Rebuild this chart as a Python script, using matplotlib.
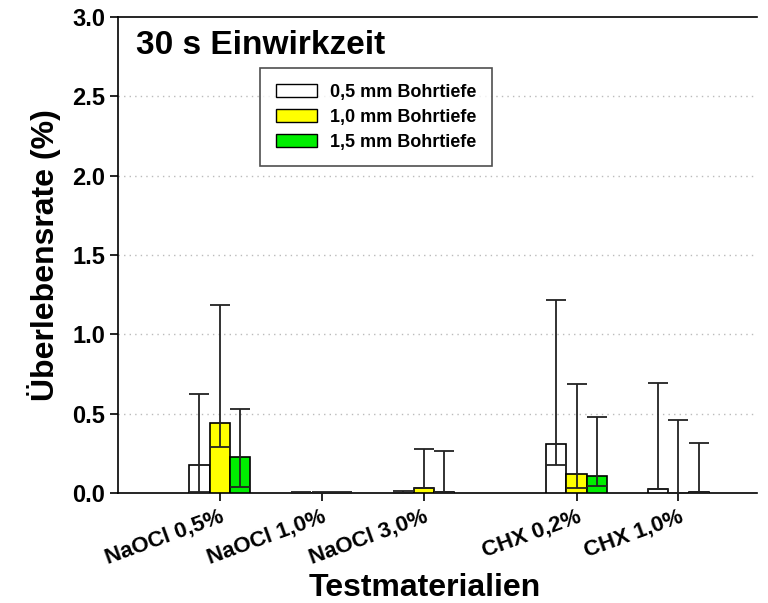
import matplotlib.pyplot as plt
import numpy as np
from matplotlib.patches import Patch

plt.rcParams['font.family'] = ['Liberation Sans', 'DejaVu Sans']
plt.rcParams['font.weight'] = 'bold'

categories = ["NaOCl 0,5%", "NaOCl 1,0%", "NaOCl 3,0%", "CHX 0,2%", "CHX 1,0%"]
positions = [1, 2, 3, 4.5, 5.5]
series_names = ["0,5 mm Bohrtiefe", "1,0 mm Bohrtiefe", "1,5 mm Bohrtiefe"]
colors = ["white", "#ffff00", "#00ee00"]

# mean values
mean_05 = [0.175, 0.001, 0.003, 0.311, 0.023]
mean_10 = [0.443, 0.001, 0.033, 0.120, 0.000]
mean_15 = [0.225, 0.001, 0.008, 0.109, 0.008]
# upper ends of error bars
upper_05 = [0.624, 0.004, 0.013, 1.216, 0.693]
upper_10 = [1.183, 0.004, 0.280, 0.687, 0.462]
upper_15 = [0.531, 0.004, 0.267, 0.479, 0.315]
# lower ends of error bars
lower_05 = [0.005, 0.001, 0.003, 0.175, 0.023]
lower_10 = [0.290, 0.001, 0.033, 0.030, 0.000]
lower_15 = [0.038, 0.001, 0.008, 0.046, 0.008]

means = [mean_05, mean_10, mean_15]
uppers = [upper_05, upper_10, upper_15]
lowers = [lower_05, lower_10, lower_15]

fig = plt.figure(figsize=(7.68, 6.03), dpi=100)
ax = fig.add_axes([0.1536, 0.1824, 0.832, 0.7894])

width = 0.2
x = np.array(positions)
for i in range(3):
    xs = x + (i - 1) * width
    m = np.array(means[i])
    up = np.array(uppers[i]) - m
    lo = m - np.array(lowers[i])
    ax.bar(xs, m, width, color=colors[i], edgecolor="black", linewidth=1.2, zorder=3)
    ax.errorbar(xs, m, yerr=[lo, up], fmt="none", ecolor="#222222",
                elinewidth=1.3, capsize=7.5, capthick=1.3, zorder=4)

ax.set_xlim(0, 6.27)
ax.set_ylim(0, 3.0)
ax.set_yticks([0, 0.5, 1.0, 1.5, 2.0, 2.5, 3.0])
ax.set_yticklabels(["0.0", "0.5", "1.0", "1.5", "2.0", "2.5", "3.0"], fontsize=17, fontweight="bold")
for gy in [0.5, 1.0, 1.5, 2.0, 2.5]:
    ax.axhline(gy, color="#bbbbbb", linestyle=(0, (1, 3)), linewidth=1.0, zorder=1)

ax.set_xticks(positions)
ax.set_xticklabels(categories, fontsize=16, fontweight="bold", rotation=20,
                   ha="right", rotation_mode="anchor")
ax.tick_params(axis="both", direction="out", length=6, width=1.2)
ax.tick_params(axis="y", pad=3)
ax.spines["right"].set_visible(False)
for s in ["left", "bottom", "top"]:
    ax.spines[s].set_linewidth(1.2)

ax.set_ylabel("Überlebensrate (%)", fontsize=23, fontweight="bold", labelpad=8)
ax.set_xlabel("Testmaterialien", fontsize=23, fontweight="bold")
ax.xaxis.set_label_coords(0.48, -0.167)

ax.text(0.028, 0.94, "30 s Einwirkzeit", transform=ax.transAxes, fontsize=24,
        fontweight="bold", va="center", ha="left")

handles = [Patch(facecolor=c, edgecolor="black", linewidth=1.0) for c in colors]
leg = ax.legend(handles, series_names, loc="upper left", bbox_to_anchor=(0.223, 0.892),
                prop={"weight": "bold", "size": 13}, frameon=True,
                fancybox=False, edgecolor="#222222", handlelength=2.3, handleheight=0.7,
                handletextpad=0.7, borderpad=0.85, labelspacing=0.45, borderaxespad=0)
leg.get_frame().set_linewidth(1.2)

fig.savefig("out.png", dpi=100)
